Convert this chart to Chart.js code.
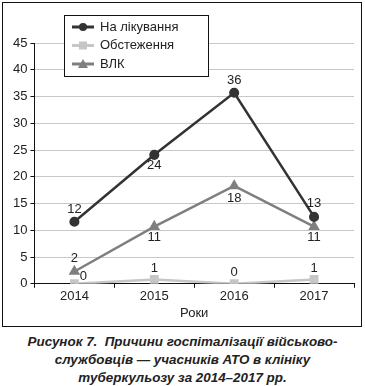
<!DOCTYPE html>
<html>
<head>
<meta charset="utf-8">
<script src="https://cdn.jsdelivr.net/npm/chart.js@4.4.1/dist/chart.umd.min.js"></script>
<style>
    body { margin: 0; background: #fff; font-family: "Liberation Sans", Arial, sans-serif; }
    #page { position: relative; width: 365px; height: 386px; }
    #box { position: absolute; left: 2px; top: 2px; width: 358px; height: 323px; border: 1.3px solid #111; }
    #box canvas { display: block; }
    #legend { position: absolute; left: 61px; top: 12px; width: 143px; height: 60px; border: 1px solid #111; background: #fff; }
    #caption { position: absolute; left: 0; top: 333px; width: 365px; text-align: center; font: italic bold 13.4px "Liberation Sans", Arial, sans-serif; line-height: 18px; color: #222; }
</style>
</head>
<body>
<div id="page">
    <div id="box">
        <canvas id="myChart" width="358" height="323"></canvas>
        <canvas id="legend" width="143" height="60"></canvas>
    </div>
    <div id="caption">Рисунок 7.&nbsp; Причини госпіталізації військово-<br>службовців — учасників АТО в клініку<br>туберкульозу за 2014–2017 рр.</div>
</div>
<script>
const years = ['2014', '2015', '2016', '2017'];
const seriesNames = ['На лікування', 'Обстеження', 'ВЛК'];
const treatment = [11.6, 24.1, 35.7, 12.5];
const examination = [0, 0.8, 0, 0.8];
const vlk = [2.3, 10.7, 18.3, 10.7];
const yTicks = [0, 5, 10, 15, 20, 25, 30, 35, 40, 45];

// label offsets per point [dx, dy]
const labelOffsets = [
    [[0, -12], [0, 11], [0, -12], [0, -13]],
    [[9, -7], [0, -11], [0, -11], [0, -11]],
    [[0, -13], [0, 11], [0, 13], [0, 11]],
];

const valueLabels = {
    id: 'valueLabels',
    afterDatasetsDraw(chart) {
        const ctx = chart.ctx;
        ctx.save();
        ctx.font = '13px "Liberation Sans", Arial, sans-serif';
        ctx.fillStyle = '#222';
        ctx.textAlign = 'center';
        ctx.textBaseline = 'middle';
        chart.data.datasets.forEach((ds, i) => {
            chart.getDatasetMeta(i).data.forEach((pt, j) => {
                const off = labelOffsets[i][j];
                ctx.fillText(Math.round(ds.data[j]), pt.x + off[0], pt.y + off[1]);
            });
        });
        ctx.restore();
    }
};

const colors = ['#333333', '#c6c6c6', '#7f7f7f'];
const styles = ['circle', 'rect', 'triangle'];
const radii = [3.8, 4.5, 4.2];

const ctx = document.querySelector('#myChart');
const chart = new Chart(ctx, {
    type: 'line',
    data: {
        labels: years,
        datasets: [treatment, examination, vlk].map((data, i) => ({
            label: seriesNames[i],
            data,
            borderColor: colors[i],
            backgroundColor: colors[i],
            borderWidth: 2.5,
            pointStyle: styles[i],
            pointRadius: radii[i],
            tension: 0,
        })),
    },
    options: {
        responsive: false,
        animation: false,
        layout: { padding: { top: 40, right: 2, left: 7, bottom: 5 } },
        scales: {
            x: {
                offset: true,
                grid: { offset: true, drawOnChartArea: false, tickLength: 4, color: '#111', tickColor: '#111' },
                border: { color: '#111', width: 1 },
                ticks: { color: '#222', font: { size: 13, family: '"Liberation Sans", Arial' }, padding: 1 },
                title: { display: true, text: 'Роки', color: '#222', font: { size: 13, family: '"Liberation Sans", Arial' }, padding: { top: 0, bottom: 0 } },
            },
            y: {
                min: 0,
                max: 45,
                afterBuildTicks: (axis) => { axis.ticks = yTicks.map(v => ({ value: v })); },
                grid: { color: '#c8c8c8', tickLength: 4, tickColor: '#111' },
                border: { color: '#111', width: 1 },
                ticks: { color: '#222', font: { size: 13, family: '"Liberation Sans", Arial' }, padding: 3 },
            },
        },
        plugins: {
            legend: { display: false },
            tooltip: { enabled: false },
        },
    },
    plugins: [valueLabels],
});

// legend drawn from datasets
const lg = document.querySelector('#legend').getContext('2d');
lg.font = '13px "Liberation Sans", Arial, sans-serif';
lg.textBaseline = 'middle';
chart.data.datasets.forEach((ds, i) => {
    const y = 11 + i * 18.5;
    lg.strokeStyle = ds.borderColor;
    lg.fillStyle = ds.borderColor;
    lg.lineWidth = 3;
    lg.beginPath();
    lg.moveTo(7, y);
    lg.lineTo(29, y);
    lg.stroke();
    lg.beginPath();
    if (ds.pointStyle === 'circle') {
        lg.arc(18, y, 4, 0, Math.PI * 2);
    } else if (ds.pointStyle === 'rect') {
        lg.rect(14, y - 4, 8, 8);
    } else {
        lg.moveTo(18, y - 5);
        lg.lineTo(23, y + 4);
        lg.lineTo(13, y + 4);
        lg.closePath();
    }
    lg.fill();
    lg.fillStyle = '#222';
    lg.fillText(ds.label, 35, y);
});
</script>
</body>
</html>
